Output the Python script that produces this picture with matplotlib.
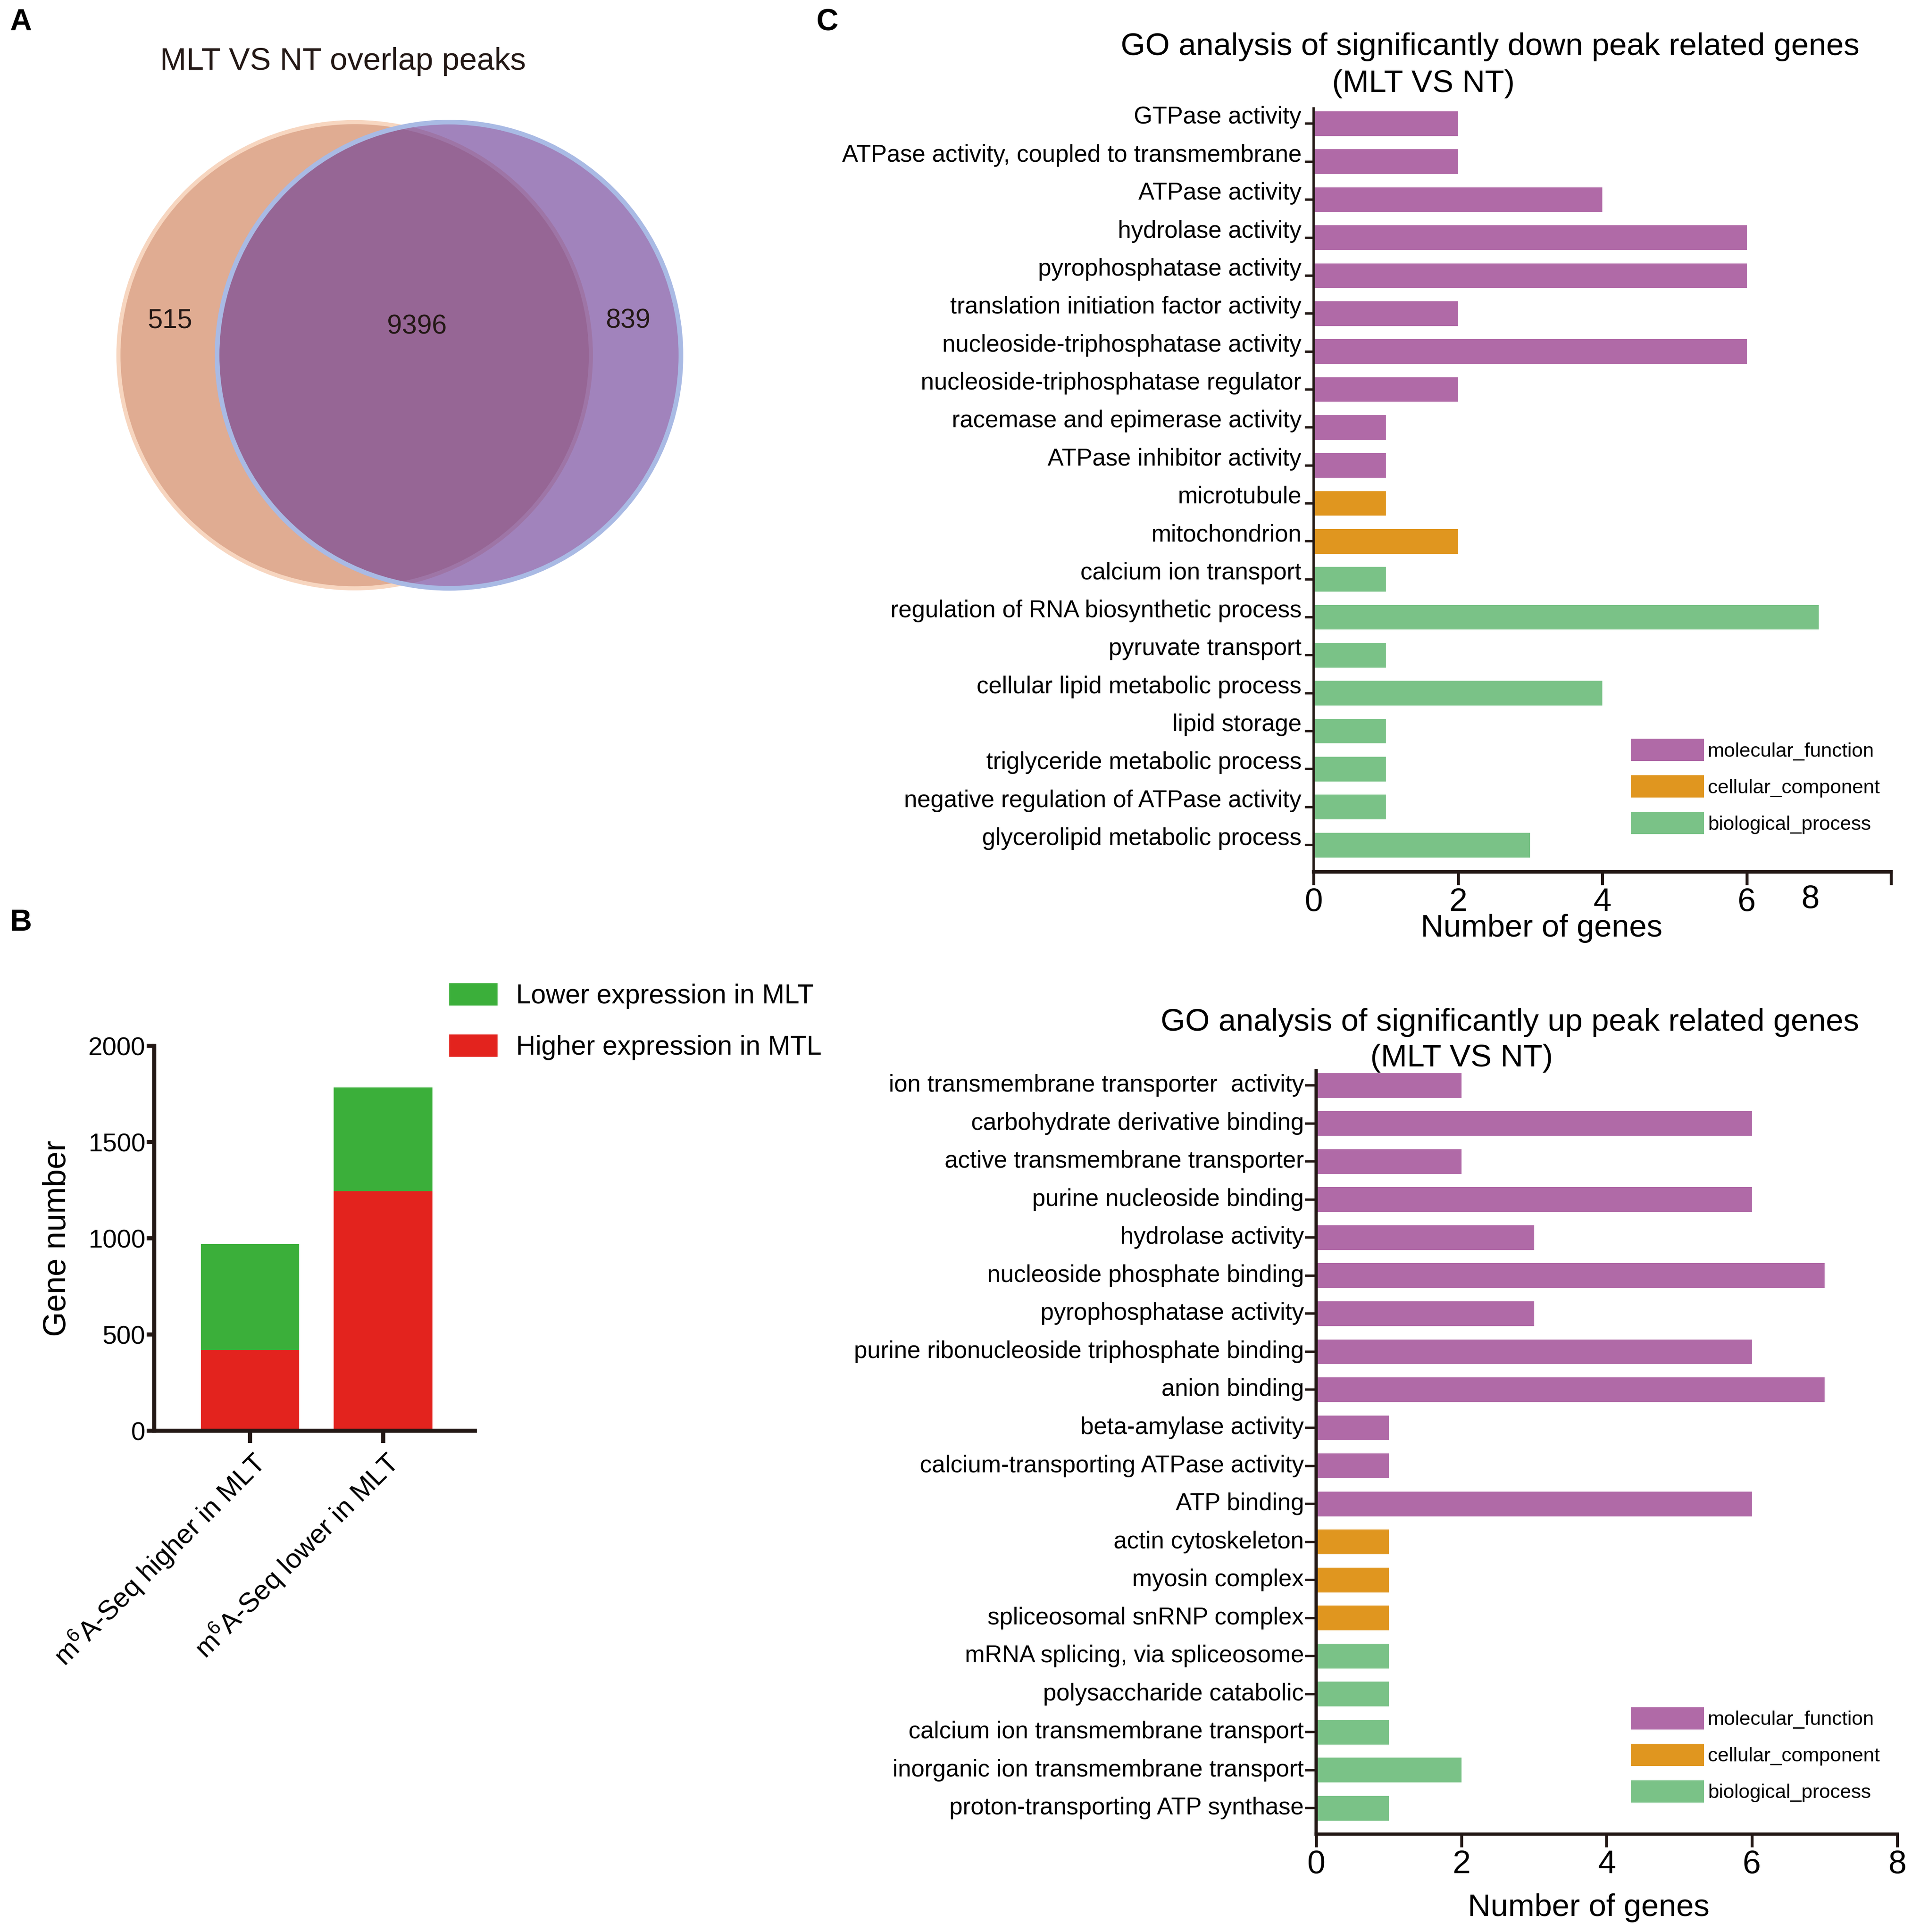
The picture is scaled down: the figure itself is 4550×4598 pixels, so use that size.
import matplotlib
matplotlib.use("Agg")
import matplotlib.pyplot as plt
from matplotlib.patches import Ellipse, Patch
import numpy as np

plt.rcParams['font.family'] = ['Liberation Sans', 'DejaVu Sans']
plt.rcParams['mathtext.default'] = 'regular'

# ---- data ----
venn_title = "MLT VS NT overlap peaks"
venn_left_only = 515
venn_both = 9396
venn_right_only = 839

b_groups = ["m$^6$A-Seq higher in MLT", "m$^6$A-Seq lower in MLT"]
b_higher = [420, 1245]   # Higher expression in MTL (red, bottom)
b_lower = [550, 540]     # Lower expression in MLT (green, stacked on top)

down_terms = ["GTPase activity", "ATPase activity, coupled to transmembrane",
              "ATPase activity", "hydrolase activity", "pyrophosphatase activity",
              "translation initiation factor activity", "nucleoside-triphosphatase activity",
              "nucleoside-triphosphatase regulator", "racemase and epimerase activity",
              "ATPase inhibitor activity", "microtubule", "mitochondrion",
              "calcium ion transport", "regulation of RNA biosynthetic process",
              "pyruvate transport", "cellular lipid metabolic process", "lipid storage",
              "triglyceride metabolic process", "negative regulation of ATPase activity",
              "glycerolipid metabolic process"]
down_counts = [2, 2, 4, 6, 6, 2, 6, 2, 1, 1, 1, 2, 1, 7, 1, 4, 1, 1, 1, 3]
down_class = ["MF"] * 10 + ["CC"] * 2 + ["BP"] * 8

up_terms = ["ion transmembrane transporter  activity", "carbohydrate derivative binding",
            "active transmembrane transporter", "purine nucleoside binding",
            "hydrolase activity", "nucleoside phosphate binding", "pyrophosphatase activity",
            "purine ribonucleoside triphosphate binding", "anion binding",
            "beta-amylase activity", "calcium-transporting ATPase activity", "ATP binding",
            "actin cytoskeleton", "myosin complex", "spliceosomal snRNP complex",
            "mRNA splicing, via spliceosome", "polysaccharide catabolic",
            "calcium ion transmembrane transport", "inorganic ion transmembrane transport",
            "proton-transporting ATP synthase"]
up_counts = [2, 6, 2, 6, 3, 7, 3, 6, 7, 1, 1, 6, 1, 1, 1, 1, 1, 1, 2, 1]
up_class = ["MF"] * 12 + ["CC"] * 3 + ["BP"] * 5

class_names = {"MF": "molecular_function", "CC": "cellular_component", "BP": "biological_process"}
class_colors = {"MF": "#B06AA7", "CC": "#E0961F", "BP": "#7AC287"}
green = "#3BAF3A"
red = "#E3231E"

# ---- layout helpers (reference measured at 1550 px wide) ----
W, H = 1550.0, 1566.4


def box(x0, y0, x1, y1):
    return [x0 / W, 1 - y1 / H, (x1 - x0) / W, (y1 - y0) / H]


fig = plt.figure(figsize=(45.5, 45.98), dpi=100)

# panel letters
fig.text(8 / W, 1 - 18 / H, "A", fontsize=52, fontweight="bold", va="center")
fig.text(8 / W, 1 - 748 / H, "B", fontsize=52, fontweight="bold", va="center")
fig.text(662 / W, 1 - 18 / H, "C", fontsize=52, fontweight="bold", va="center")

# ---- A: Venn ----
ax_a = fig.add_axes(box(0, 80, 600, 500))
ax_a.set_xlim(0, 600)
ax_a.set_ylim(500, 80)
ax_a.axis("off")
ax_a.add_patch(Ellipse((287.5, 288), 383, 378, facecolor="#E0AC92", edgecolor="#F7D6C0", lw=7))
ax_a.add_patch(Ellipse((364, 288), 376, 378, facecolor="#6F4198", alpha=0.65, edgecolor="none"))
ax_a.add_patch(Ellipse((364, 288), 376, 378, facecolor="none", edgecolor="#A9BAE4", lw=8))
ax_a.text(138, 260, str(venn_left_only), fontsize=46, ha="center", va="center", color="#231815")
ax_a.text(338, 265, str(venn_both), fontsize=46, ha="center", va="center", color="#231815")
ax_a.text(509, 260, str(venn_right_only), fontsize=46, ha="center", va="center", color="#231815")
fig.text(278 / W, 1 - 50 / H, venn_title, fontsize=54, ha="center", va="center", color="#231815")

# ---- B: stacked bars ----
ax_b = fig.add_axes(box(125, 848, 385, 1160))
xb = np.arange(len(b_groups))
ax_b.bar(xb, b_higher, width=0.74, color=red, label="Higher expression in MTL")
ax_b.bar(xb, b_lower, width=0.74, bottom=b_higher, color=green, label="Lower expression in MLT")
ax_b.set_xlim(-0.72, 1.69)
ax_b.set_ylim(0, 2000)
ax_b.set_yticks([0, 500, 1000, 1500, 2000])
ax_b.set_xticks(xb)
ax_b.set_xticklabels(b_groups, rotation=45, ha="right", rotation_mode="anchor")
for s in ["top", "right"]:
    ax_b.spines[s].set_visible(False)
for s in ["left", "bottom"]:
    ax_b.spines[s].set_linewidth(7)
    ax_b.spines[s].set_color("#231815")
ax_b.tick_params(axis="y", length=13, width=7, labelsize=44, pad=2, color="#231815")
ax_b.tick_params(axis="x", length=21, width=7, labelsize=47, pad=8, color="#231815")
ax_b.set_ylabel("Gene number", fontsize=55)
ax_b.yaxis.set_label_coords(-0.255, 0.5)
hb = [Patch(facecolor=green), Patch(facecolor=red)]
ax_b.legend(hb, ["Lower expression in MLT", "Higher expression in MTL"],
            loc="upper left", bbox_to_anchor=(364 / W, 1 - 797 / H), bbox_transform=fig.transFigure,
            frameon=False, fontsize=46, handlelength=1.8, handleheight=0.9,
            handletextpad=0.7, labelspacing=0.95, borderpad=0, borderaxespad=0)


# ---- C: GO bar charts ----
def go_panel(ax, terms, counts, classes, ylo, yhi, label_va, left_lw, bottom_lw, ytick_len, ypad):
    y = np.arange(len(terms))
    ax.barh(y, counts, height=0.65, color=[class_colors[c] for c in classes])
    ax.set_yticks(y)
    ax.set_yticklabels(terms, fontsize=41)
    for lbl in ax.get_yticklabels():
        lbl.set_va(label_va)
    ax.set_ylim(ylo, yhi)
    ax.set_xlim(0, 8)
    ax.set_xticks([0, 2, 4, 6, 8])
    for s in ["top", "right"]:
        ax.spines[s].set_visible(False)
    ax.spines["left"].set_linewidth(left_lw)
    ax.spines["bottom"].set_linewidth(bottom_lw)
    ax.spines["left"].set_color("#231815")
    ax.spines["bottom"].set_color("#231815")
    ax.tick_params(axis="y", length=ytick_len, width=4, pad=ypad, color="#231815")
    ax.tick_params(axis="x", length=22, width=5, labelsize=56, pad=4, color="#231815")
    handles = [Patch(facecolor=class_colors[k]) for k in ["MF", "CC", "BP"]]
    return handles


ax_c1 = fig.add_axes(box(1065, 88, 1533, 707))
h1 = go_panel(ax_c1, down_terms, down_counts, down_class, 19.71, -0.4, "baseline", 4, 6, 15, 6)
ax_c1.set_xticklabels(["0", "2", "4", "6", ""])
ax_c1.text(6.88, -0.016, "8", transform=ax_c1.get_xaxis_transform(), fontsize=56,
           ha="center", va="top")
ax_c1.set_xlabel("Number of genes", fontsize=54)
ax_c1.xaxis.set_label_coords(0.395, -0.055)
ax_c1.legend(h1, [class_names[k] for k in ["MF", "CC", "BP"]],
             loc="upper left", bbox_to_anchor=(1322 / W, 1 - 599 / H), bbox_transform=fig.transFigure,
             frameon=False, fontsize=34, handlelength=3.7, handleheight=1.35,
             handletextpad=0.18, labelspacing=0.72, borderpad=0, borderaxespad=0)
fig.text(1208 / W, 1 - 38 / H, "GO analysis of significantly down peak related genes",
         fontsize=54, ha="center", va="center")
fig.text(1154 / W, 1 - 68 / H, "(MLT VS NT)", fontsize=54, ha="center", va="center")

ax_c2 = fig.add_axes(box(1067, 868, 1538, 1487))
h2 = go_panel(ax_c2, up_terms, up_counts, up_class, 19.68, -0.39, "center", 5.5, 5.5, 19, 2)
ax_c2.set_xlabel("Number of genes", fontsize=54)
ax_c2.xaxis.set_label_coords(0.469, -0.0775)
ax_c2.legend(h2, [class_names[k] for k in ["MF", "CC", "BP"]],
             loc="upper left", bbox_to_anchor=(1322 / W, 1 - 1384 / H), bbox_transform=fig.transFigure,
             frameon=False, fontsize=34, handlelength=3.7, handleheight=1.35,
             handletextpad=0.18, labelspacing=0.72, borderpad=0, borderaxespad=0)
fig.text(1224 / W, 1 - 829 / H, "GO analysis of significantly up peak related genes",
         fontsize=54, ha="center", va="center")
fig.text(1185 / W, 1 - 858 / H, "(MLT VS NT)", fontsize=54, ha="center", va="center")

fig.savefig("out.png", dpi=100, facecolor="white")
